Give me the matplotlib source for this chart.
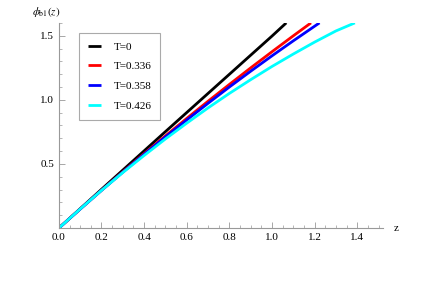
import matplotlib
matplotlib.use("Agg")
import matplotlib.pyplot as plt
from matplotlib.ticker import MultipleLocator

# values
z_t0 = [0, 0.1, 0.2, 0.3, 0.4, 0.5, 0.6, 0.7, 0.8, 0.9, 1.0, 1.067]
phi_t0 = [0, 0.151, 0.302, 0.452, 0.602, 0.752, 0.901, 1.050, 1.199, 1.348, 1.497, 1.6]

z_t336 = [0, 0.1, 0.2, 0.3, 0.4, 0.5, 0.6, 0.7, 0.8, 0.9, 1.0, 1.1, 1.183]
phi_t336 = [0, 0.149, 0.295, 0.439, 0.580, 0.719, 0.855, 0.989, 1.120, 1.249, 1.375, 1.499, 1.6]

z_t358 = [0, 0.1, 0.2, 0.3, 0.4, 0.5, 0.6, 0.7, 0.8, 0.9, 1.0, 1.1, 1.2, 1.223]
phi_t358 = [0, 0.148, 0.294, 0.436, 0.575, 0.711, 0.843, 0.973, 1.100, 1.223, 1.343, 1.460, 1.574, 1.6]

z_t426 = [0, 0.1, 0.2, 0.3, 0.4, 0.5, 0.6, 0.7, 0.8, 0.9, 1.0, 1.1, 1.2, 1.3, 1.389]
phi_t426 = [0, 0.149, 0.294, 0.433, 0.566, 0.695, 0.818, 0.937, 1.050, 1.157, 1.260, 1.357, 1.450,
            1.537, 1.6]

labels = ["T=0", "T=0.336", "T=0.358", "T=0.426"]
colors = ["black", "#ff0000", "#0000ff", "#00ffff"]

plt.rcParams['font.family'] = ['Liberation Serif', 'DejaVu Serif']
plt.rcParams['mathtext.fontset'] = 'stix'

fig = plt.figure(figsize=(4.36, 2.97), dpi=100)
ax = fig.add_axes([0.135, 0.232, 0.743, 0.691])

series = [(z_t0, phi_t0), (z_t336, phi_t336), (z_t358, phi_t358), (z_t426, phi_t426)]
for (z, phi), lab, col in zip(series, labels, colors):
    ax.plot(z, phi, color=col, lw=2.0, label=lab, solid_capstyle='butt')

ax.set_xlim(0, 1.52)
ax.set_ylim(0, 1.6)
ax.xaxis.set_major_locator(MultipleLocator(0.2))
ax.xaxis.set_minor_locator(MultipleLocator(0.05))
ax.yaxis.set_minor_locator(MultipleLocator(0.1))
ax.set_yticks([0.5, 1.0, 1.5])

for side in ['top', 'right']:
    ax.spines[side].set_visible(False)
for side in ['left', 'bottom']:
    ax.spines[side].set_color('#999999')
    ax.spines[side].set_linewidth(0.8)

ax.tick_params(which='both', direction='in', color='#999999', labelsize=8)
ax.tick_params(which='major', length=4, width=0.6)
ax.tick_params(which='minor', length=2, width=0.5)

ax.text(1.04, 0.0, "z", transform=ax.transAxes, fontsize=8, va='center', ha='center')
ax.text(-0.04, 1.055, r"$\phi_{\rm b1}(z)$", transform=ax.transAxes, fontsize=8,
        va='center', ha='center')

leg = ax.legend(loc='upper left', bbox_to_anchor=(0.062, 0.951), borderaxespad=0,
                fontsize=8, fancybox=False, edgecolor='#aaaaaa', framealpha=1,
                handlelength=1.2, handletextpad=1.1, labelspacing=0.9, borderpad=0.8)
leg.get_frame().set_linewidth(0.8)

fig.savefig("out.png", dpi=100)
